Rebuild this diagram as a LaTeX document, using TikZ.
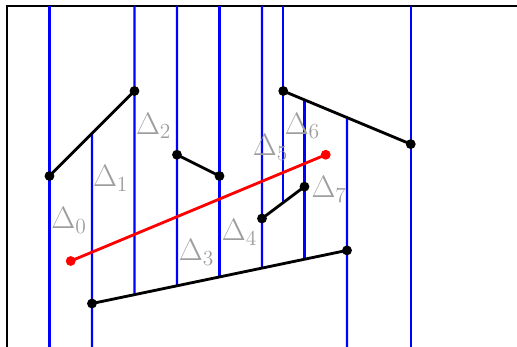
\documentclass[tikz,border=0pt]{standalone}
\usepackage{amsmath,amssymb}
\usepackage{tikz}
\usetikzlibrary{calc}

\begin{document}
\begin{tikzpicture}[x=1cm,y=-1cm,
  seg/.style={line width=1.9pt},
  wall/.style={blue,line width=1.5pt},
  lab/.style={black!38,font=\huge}]
  \useasboundingbox (-0.164,-0.141) rectangle (12,8);
  \clip (-0.164,-0.141) rectangle (12,8);
  % 外框
  \draw[line width=1.3pt] (0,0) rectangle (12.5,8.5);
  % 线段端点
  \coordinate (a1) at (1,4);   \coordinate (a2) at (3,2);
  \coordinate (b1) at (4,3.5); \coordinate (b2) at (5,4);
  \coordinate (c1) at (6.5,2); \coordinate (c2) at (9.5,3.25);
  \coordinate (d1) at (6,5);   \coordinate (d2) at (7,4.25);
  \coordinate (e1) at (2,7);   \coordinate (e2) at (8,5.75);
  \coordinate (q1) at (1.5,6); \coordinate (q2) at (7.5,3.5);
  % 竖直墙的端点
  \coordinate (wt0) at (1,0);                 \coordinate (wb0) at (1,8.5);
  \coordinate (wt1) at ($(a1)!0.5!(a2)$);     \coordinate (wb1) at (2,8.5);
  \coordinate (wt2) at (3,0);                 \coordinate (wb2) at ($(e1)!1/6!(e2)$);
  \coordinate (wt3) at (4,0);                 \coordinate (wb3) at ($(e1)!2/6!(e2)$);
  \coordinate (wt4) at (5,0);                 \coordinate (wb4) at ($(e1)!0.5!(e2)$);
  \coordinate (wt5) at (6,0);                 \coordinate (wb5) at ($(e1)!4/6!(e2)$);
  \coordinate (wt6) at (6.5,0);               \coordinate (wb6) at ($(d1)!0.5!(d2)$);
  \coordinate (wt7) at ($(c1)!1/6!(c2)$);     \coordinate (wb7) at ($(e1)!5/6!(e2)$);
  \coordinate (wt8) at ($(c1)!0.5!(c2)$);     \coordinate (wb8) at (8,8.5);
  \coordinate (wt9) at (9.5,0);               \coordinate (wb9) at (9.5,8.5);
  % 竖直墙
  \foreach \i in {0,...,9} \draw[wall] (wt\i) -- (wb\i);
  % 线段
  \draw[seg] (a1) -- (a2);
  \draw[seg] (b1) -- (b2);
  \draw[seg] (c1) -- (c2);
  \draw[seg] (d1) -- (d2);
  \draw[seg] (e1) -- (e2);
  % 查询线段
  \draw[seg,red] (q1) -- (q2);
  % 端点
  \foreach \p in {a1,a2,b1,b2,c1,c2,d1,d2,e1,e2} \fill (\p) circle (3.3pt);
  \fill[red] (q1) circle (3.3pt) (q2) circle (3.3pt);
  % 梯形标号
  \node[lab] (l0) at (1.46,5.05) {$\Delta_0$};
  \node[lab] (l1) at (2.44,4.06) {$\Delta_1$};
  \node[lab] (l2) at (3.45,2.82) {$\Delta_2$};
  \node[lab] (l3) at (4.46,5.80) {$\Delta_3$};
  \node[lab] (l4) at (5.47,5.33) {$\Delta_4$};
  \node[lab] (l5) at (6.20,3.33) {$\Delta_5$};
  \node[lab] (l6) at (6.95,2.82) {$\Delta_6$};
  \node[lab] (l7) at (7.58,4.32) {$\Delta_7$};
\end{tikzpicture}
\end{document}
